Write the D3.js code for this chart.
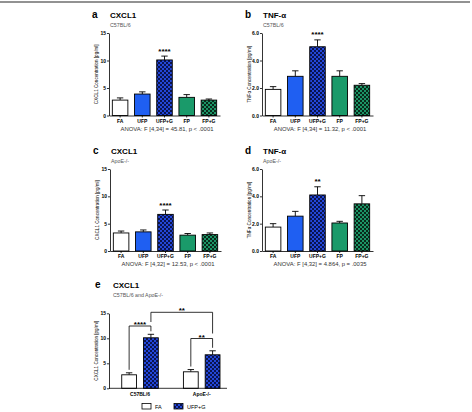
<!DOCTYPE html>
<html>
<head>
<meta charset="utf-8">
<script src="https://cdn.jsdelivr.net/npm/d3@7"></script>
<style>
  body { margin: 0; background: #fff; }
  svg text { font-family: "Liberation Sans", Arial, Helvetica, sans-serif; }
</style>
</head>
<body>
<script>
// treatment groups + values
const treatments = ["FA", "UFP", "UFP+G", "FP", "FP+G"];

const cxclC57 = [2.8, 3.9, 10.1, 3.3, 2.8];
const cxclC57Err = [0.4, 0.4, 0.7, 0.5, 0.2];
const tnfC57 = [1.9, 2.85, 5.0, 2.85, 2.2];
const tnfC57Err = [0.2, 0.4, 0.5, 0.4, 0.12];
const cxclApoE = [3.3, 3.5, 6.7, 2.9, 3.0];
const cxclApoEErr = [0.35, 0.35, 0.8, 0.3, 0.3];
const tnfApoE = [1.75, 2.55, 4.1, 2.05, 3.45];
const tnfApoEErr = [0.25, 0.35, 0.6, 0.12, 0.6];

// panel e
const strains = ["C57BL/6", "ApoE-/-"];
const pairGroups = ["FA", "UFP+G"];
const pairFA = [2.7, 3.3];
const pairFAErr = [0.4, 0.45];
const pairUFPG = [10.1, 6.7];
const pairUFPGErr = [0.7, 0.8];

const cxclTicks = [0, 5, 10, 15];
const tnfTicks = [0, 2, 4, 6];

const panelLetters = ["a", "b", "c", "d", "e"];
const panelTitles = ["CXCL1", "TNF-\u03b1", "CXCL1", "TNF-\u03b1", "CXCL1"];
const panelSubtitles = ["C57BL/6", "C57BL/6", "ApoE-/-", "ApoE-/-", "C57BL/6 and ApoE-/-"];
const anovaText = [
  "ANOVA: F [4,34] = 45.81, p < .0001",
  "ANOVA: F [4,34] = 11.32, p < .0001",
  "ANOVA: F [4,32] = 12.53, p < .0001",
  "ANOVA: F [4,32] = 4.864, p = .0035"
];
const starLabels = ["****", "****", "****", "**"];
const yLabels = ["CXCL1 Concentration [pg/ml]", "TNF\u03b1 Concentration [pg/ml]",
                 "CXCL1 Concentration [pg/ml]", "TNF\u03b1 Concentration [pg/ml]",
                 "CXCL1 Concentration [pg/ml]"];

const W = 472, H = 412;
const svg = d3.select("body").append("svg").attr("width", W).attr("height", H);

// checkered fills
const defs = svg.append("defs");
function checker(id, light, dark) {
  const p = defs.append("pattern").attr("id", id)
    .attr("patternUnits", "userSpaceOnUse").attr("width", 4).attr("height", 4);
  p.append("rect").attr("width", 4).attr("height", 4).attr("fill", light);
  p.append("rect").attr("width", 2).attr("height", 2).attr("fill", dark);
  p.append("rect").attr("x", 2).attr("y", 2).attr("width", 2).attr("height", 2).attr("fill", dark);
}
checker("chkBlue", "#2347d8", "#0a1450");
checker("chkGreen", "#1c9466", "#082a1a");

const fills = {"FA": "#fff", "UFP": "#1f5ff2", "UFP+G": "url(#chkBlue)", "FP": "#1a9a6a", "FP+G": "url(#chkGreen)"};

// top rule
svg.append("line").attr("x1", 0).attr("x2", 470).attr("y1", 2).attr("y2", 2)
  .attr("stroke", "#6e6e6e").attr("stroke-width", 1.5);

function header(i, x0, yTitle, ySub) {
  svg.append("text").attr("x", x0 - 18).attr("y", yTitle).text(panelLetters[i])
    .attr("font-size", 10).attr("font-weight", "bold");
  svg.append("text").attr("x", x0).attr("y", yTitle).text(panelTitles[i])
    .attr("font-size", 8).attr("font-weight", "bold");
  svg.append("text").attr("x", x0).attr("y", ySub).text(panelSubtitles[i])
    .attr("font-size", 5.3).attr("fill", "#555");
}

function yAxisLabel(i, x, y0, y1) {
  svg.append("text")
    .attr("transform", "translate(" + x + "," + ((y0 + y1) / 2) + ") rotate(-90)")
    .attr("text-anchor", "middle").attr("font-size", 4.6).text(yLabels[i]);
}

function styleAxis(g) {
  g.selectAll("path, line").attr("stroke", "#000").attr("stroke-width", 0.8);
  g.selectAll("text").attr("font-size", 5).attr("font-weight", "bold")
    .attr("font-family", "Liberation Sans, Arial, sans-serif");
}

function errBar(x, yTop, yVal, half) {
  svg.append("line").attr("x1", x).attr("x2", x).attr("y1", yVal).attr("y2", yTop)
    .attr("stroke", "#000").attr("stroke-width", 0.9);
  svg.append("line").attr("x1", x - half).attr("x2", x + half).attr("y1", yTop).attr("y2", yTop)
    .attr("stroke", "#000").attr("stroke-width", 0.9);
}

function drawPanel(i, vals, errs, ticks, left, top, bottom, titleY) {
  const x = d3.scaleBand().domain(treatments).range([left, left + 111])
    .paddingInner(0.3).paddingOuter(0.15);
  const y = d3.scaleLinear().domain([0, d3.max(ticks)]).range([bottom, top]);

  header(i, left + 1, titleY, titleY + 9);
  yAxisLabel(i, left - 11, bottom, top);

  treatments.forEach(function(t, k) {
    const cx = x(t) + x.bandwidth() / 2;
    errBar(cx, y(vals[k] + errs[k]), y(vals[k]), 3.2);
    svg.append("rect").attr("x", x(t)).attr("y", y(vals[k]))
      .attr("width", x.bandwidth()).attr("height", y(0) - y(vals[k]))
      .attr("fill", fills[t]).attr("stroke", "#000").attr("stroke-width", 0.9);
  });

  const gy = svg.append("g").attr("transform", "translate(" + left + ",0)")
    .call(d3.axisLeft(y).tickValues(ticks).tickSize(2).tickSizeOuter(0).tickPadding(1));
  styleAxis(gy);
  const gx = svg.append("g").attr("transform", "translate(0," + bottom + ")")
    .call(d3.axisBottom(x).tickSize(2).tickSizeOuter(0).tickPadding(1.5));
  styleAxis(gx);

  // significance stars over UFP+G
  const k = 2;
  svg.append("text").attr("x", x(treatments[k]) + x.bandwidth() / 2)
    .attr("y", y(vals[k] + errs[k]) - 2.5).attr("text-anchor", "middle")
    .attr("font-size", 8).attr("font-weight", "bold").text(starLabels[i]);

  svg.append("text").attr("x", left + 58).attr("y", bottom + 15)
    .attr("text-anchor", "middle").attr("font-size", 5.9).attr("fill", "#333")
    .text(anovaText[i]);
}

drawPanel(0, cxclC57, cxclC57Err, cxclTicks, 109, 33, 115.5, 18);
drawPanel(1, tnfC57, tnfC57Err, tnfTicks, 262, 33, 115.5, 17.5);
drawPanel(2, cxclApoE, cxclApoEErr, cxclTicks, 110, 169, 251, 154);
drawPanel(3, tnfApoE, tnfApoEErr, tnfTicks, 262, 169, 251, 154);

// panel e: grouped bars
(function() {
  const left = 109, top = 313.3, bottom = 388.3;
  const x0 = d3.scaleBand().domain(strains).range([left, left + 118])
    .paddingInner(0.407).paddingOuter(0.16).align(0.645);
  const x1 = d3.scaleBand().domain(pairGroups).range([0, x0.bandwidth()]).paddingInner(0.32);
  const y = d3.scaleLinear().domain([0, 15]).range([bottom, top]);

  header(4, left + 4, 288, 297);
  yAxisLabel(4, left - 11, bottom, top);

  const series = {"FA": [pairFA, pairFAErr], "UFP+G": [pairUFPG, pairUFPGErr]};
  const centers = {};
  strains.forEach(function(s, si) {
    pairGroups.forEach(function(g) {
      const v = series[g][0][si], e = series[g][1][si];
      const bx = x0(s) + x1(g);
      const cx = bx + x1.bandwidth() / 2;
      centers[s + g] = [cx, y(v + e)];
      errBar(cx, y(v + e), y(v), 3.2);
      svg.append("rect").attr("x", bx).attr("y", y(v))
        .attr("width", x1.bandwidth()).attr("height", y(0) - y(v))
        .attr("fill", fills[g]).attr("stroke", "#000").attr("stroke-width", 0.9);
    });
  });

  const gy = svg.append("g").attr("transform", "translate(" + left + ",0)")
    .call(d3.axisLeft(y).tickValues(cxclTicks).tickSize(2).tickSizeOuter(0).tickPadding(1));
  styleAxis(gy);
  const gx = svg.append("g").attr("transform", "translate(0," + bottom + ")")
    .call(d3.axisBottom(x0).tickSize(0).tickPadding(4));
  styleAxis(gx);
  gx.select(".domain").attr("d", "M" + left + ",0H" + (left + 118));

  // comparison brackets
  function bracket(a, b, yLine, label, gapA, gapB) {
    const path = "M" + a[0] + "," + (a[1] - gapA) + "V" + yLine + "H" + b[0] + "V" + (b[1] - gapB);
    svg.append("path").attr("d", path).attr("fill", "none")
      .attr("stroke", "#000").attr("stroke-width", 0.8);
    svg.append("text").attr("x", (a[0] + b[0]) / 2).attr("y", yLine + 1)
      .attr("text-anchor", "middle").attr("font-size", 8).attr("font-weight", "bold")
      .text(label);
  }
  const c1 = centers["C57BL/6FA"], c2 = centers["C57BL/6UFP+G"];
  const a1 = centers["ApoE-/-FA"], a2 = centers["ApoE-/-UFP+G"];
  bracket(c1, c2, 326, "****", 3, 3);
  bracket(a1, a2, 338.5, "**", 3, 3);
  bracket([c2[0], 326 - 4], [a2[0], 338.5 - 5], 312.3, "**", 0, 0);

  // legend
  const leg = svg.append("g");
  pairGroups.forEach(function(g, k) {
    const lx = [142, 174][k];
    leg.append("rect").attr("x", lx).attr("y", 403.5).attr("width", 9).attr("height", 5.5)
      .attr("fill", fills[g]).attr("stroke", "#000").attr("stroke-width", 0.8);
    leg.append("text").attr("x", lx + 13).attr("y", 408.5).attr("font-size", 5.5)
      .text(g);
  });
})();
</script>
</body>
</html>
